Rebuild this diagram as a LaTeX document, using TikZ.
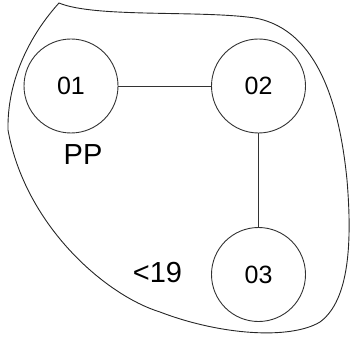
\documentclass[tikz,border=0pt]{standalone}
\usepackage{fontspec}
\setmainfont{Liberation Sans}
\begin{document}
\begin{tikzpicture}[x=1pt,y=-1pt,
  vertex/.style={circle,draw=black!80,line width=0.9pt,minimum size=94pt,inner sep=0pt,font=\fontsize{25}{30}\selectfont},
  edge/.style={draw=black!80,line width=0.9pt},
  lbl/.style={inner sep=0pt,font=\fontsize{29}{34}\selectfont},
  blob/.style={draw=black!85,line width=0.9pt}]
\useasboundingbox (0,0) rectangle (350,339);
\draw[blob] (59,3) .. controls (95,18) and (200,10) .. (255,18)
  .. controls (320,30) and (340,110) .. (347,180)
  .. controls (352,240) and (350,300) .. (320,322)
  .. controls (290,340) and (220,335) .. (160,312)
  .. controls (105,295) and (25,225) .. (8,130)
  .. controls (7,80) and (30,35) .. (59,3) -- cycle;
\node[vertex] (n1) at (71,86) {01};
\node[vertex] (n2) at (258.5,86) {02};
\node[vertex] (n3) at (258.5,274.5) {03};
\draw[edge] (n1) -- (n2);
\draw[edge] (n2) -- (n3);
\node[lbl] (pp) at (83,155) {PP};
\node[lbl] (lt) at (157.5,272.5) {<19};
\end{tikzpicture}
\end{document}
